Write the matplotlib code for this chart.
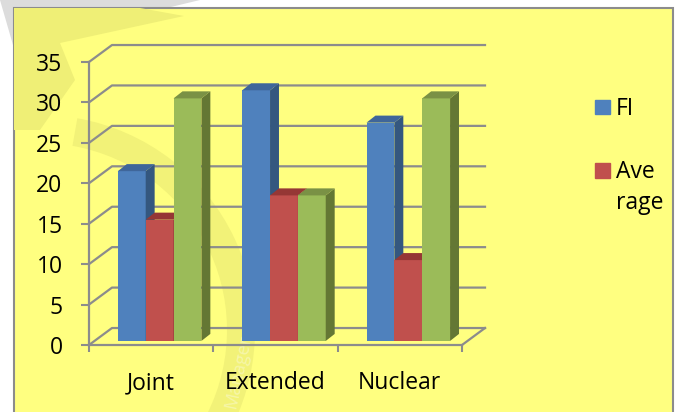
import numpy as np
import matplotlib.pyplot as plt
from matplotlib.patches import Polygon, Rectangle, Wedge

# chart data
categories = ["Joint", "Extended", "Nuclear"]
fi_values = [21, 31, 27]
average_values = [15, 18, 10]
third_values = [30, 18, 30]
y_ticks = [0, 5, 10, 15, 20, 25, 30, 35]
legend_labels = ["FI", "Ave", "rage"]

W, H = 679, 412
FS = 16.5
plt.rcParams['font.family'] = ['Open Sans', 'DejaVu Sans']
fig = plt.figure(figsize=(W / 100, H / 100), dpi=100)
fig.patch.set_facecolor('white')

# background axes in pixel units: yellow box and faint watermark
bg = fig.add_axes([0, 0, 1, 1])
bg.set_xlim(0, W)
bg.set_ylim(H, 0)
bg.axis('off')
bg.add_patch(Polygon([(0, 0), (200, 0), (13, 45)], color='#dcdcdc', lw=0))
bg.add_patch(Rectangle((13.5, 7.5), 659, 430, facecolor='#ffff80',
                       edgecolor='#8c8c8c', lw=1.5))
bg.add_patch(Polygon([(14, 8), (140, 8), (184, 16), (60, 43), (75, 80), (40, 130), (14, 130)],
                     color='#efef76', lw=0))
bg.add_patch(Wedge((40, 330), 215, -80, 30, width=28, color='#f2f278', lw=0))
bg.text(222, 410, "Management", rotation=78, color='#f6f6a8', fontsize=13,
        ha='left', va='bottom')

# legend drawn by hand
bg.add_patch(Rectangle((595, 100), 15, 14, color='#4F81BD'))
bg.add_patch(Rectangle((595, 163), 15, 15, color='#C0504D'))
bg.text(616, 115, legend_labels[0], fontsize=FS, va='baseline')
bg.text(616, 178, legend_labels[1], fontsize=FS, va='baseline')
bg.text(616, 209, legend_labels[2], fontsize=FS, va='baseline')

# main chart axes: front plane of the 3d box
ax = fig.add_axes([89 / W, (H - 345) / H, 373 / W, 283 / H])
ax.patch.set_alpha(0)
ax.set_xlim(0, 3)
ax.set_ylim(0, 35)

grid_col = '#8c8c8c'
wall_dx, wall_dy = 0.185, 2.1      # depth of back wall
bar_dx, bar_dy = 0.072, 0.87       # depth of each bar
base_dx, base_dy = 0.0, 0.5        # bars sit a little behind the front plane
bar_start, bw = 0.232, 0.224

for v in y_ticks:
    ax.plot([0, wall_dx, 3 + wall_dx], [v, v + wall_dy, v + wall_dy],
            color=grid_col, lw=1.6, clip_on=False, zorder=1)
ax.plot([3, 3 + wall_dx], [0, wall_dy], color=grid_col, lw=1.6, clip_on=False, zorder=1)

series = [
    (fi_values, '#4F81BD', '#34577f', '#3f669a'),
    (average_values, '#C0504D', '#8a3533', '#953735'),
    (third_values, '#9BBB59', '#647734', '#7a9145'),
]

z = 3
for c in range(len(categories)):
    for i, (vals, front, side, top) in enumerate(series):
        x = c + bar_start + i * bw + base_dx
        v = vals[c]
        b = base_dy
        ax.bar(x, v, width=bw, bottom=b, align='edge', color=front, lw=0, zorder=z)
        ax.add_patch(Polygon([(x + bw, b), (x + bw + bar_dx, b + bar_dy),
                              (x + bw + bar_dx, b + v + bar_dy), (x + bw, b + v)],
                             color=side, lw=0, zorder=z, clip_on=False))
        ax.add_patch(Polygon([(x, b + v), (x + bar_dx, b + v + bar_dy),
                              (x + bw + bar_dx, b + v + bar_dy), (x + bw, b + v)],
                             color=top, lw=0, zorder=z, clip_on=False))
        z += 1

for s in ['top', 'right']:
    ax.spines[s].set_visible(False)
for s in ['left', 'bottom']:
    ax.spines[s].set_color(grid_col)
    ax.spines[s].set_linewidth(1.6)
    ax.spines[s].set_zorder(2)

ax.set_yticks(y_ticks)
ax.tick_params(axis='y', length=6, width=1.5, color=grid_col, pad=13, labelsize=FS)
ax.set_xticks([0.5, 1.5, 2.5])
ax.set_xticklabels(categories)
ax.set_xticks([0, 1, 2, 3], minor=True)
ax.tick_params(axis='x', which='major', length=0, pad=19, labelsize=FS)
ax.tick_params(axis='x', which='minor', length=5, width=1.5, color=grid_col)

fig.savefig('out.png', dpi=100)
